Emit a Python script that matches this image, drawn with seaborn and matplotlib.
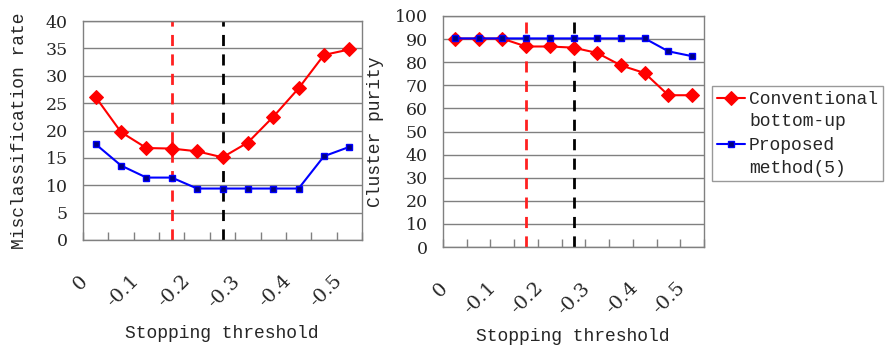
import numpy as np
import pandas as pd
import matplotlib
matplotlib.use("Agg")
import matplotlib.pyplot as plt
from matplotlib.transforms import ScaledTranslation
from matplotlib.legend_handler import HandlerLine2D
import seaborn as sns

# stopping threshold steps (one point per step, labels every 0.1)
steps = list(range(11))
tick_labels = ["0", "-0.1", "-0.2", "-0.3", "-0.4", "-0.5"]

# misclassification rate (%)
miscls_conv = [26.1, 19.7, 16.8, 16.7, 16.2, 15.1, 17.8, 22.5, 27.7, 33.8, 34.8]
miscls_prop = [17.5, 13.6, 11.4, 11.4, 9.4, 9.4, 9.4, 9.4, 9.4, 15.3, 17.0]

# cluster purity (%)
purity_conv = [90.2, 90.2, 90.2, 86.8, 86.8, 86.3, 84.0, 78.6, 75.3, 65.7, 65.7]
purity_prop = [90.3, 90.3, 90.3, 90.3, 90.3, 90.3, 90.3, 90.3, 90.3, 84.7, 82.6]

red_line = 3    # step index of red dashed marker
black_line = 5  # step index of black dashed marker

series_names = ["Conventional\nbottom-up", "Proposed\nmethod(5)"]

sns.set_theme(style="white")
mono = ["Liberation Mono", "DejaVu Sans Mono"]
serif = ["DejaVu Serif"]

fig = plt.figure(figsize=(8.86, 3.51), dpi=100)
W, H = 886, 351
ax1 = fig.add_axes([83 / W, 1 - 240 / H, 279 / W, 219 / H])
ax2 = fig.add_axes([443 / W, 1 - 247 / H, 261 / W, 231 / H])


def draw(ax, conv, prop, ymax, ystep, ylabel, ylab_x, xlab_y):
    df = pd.DataFrame({"step": steps * 2,
                       "value": conv + prop,
                       "series": [series_names[0]] * len(steps) + [series_names[1]] * len(steps)})
    ax.axvline(red_line, color="#ff2020", ls=(0, (4, 3)), lw=2, zorder=1)
    ax.axvline(black_line, color="black", ls=(0, (4, 3)), lw=2, zorder=1)
    sns.lineplot(data=df, x="step", y="value", hue="series", style="series",
                 palette=["#ff0000", "#0000ff"], markers=["D", "s"], dashes=False,
                 ax=ax, legend=False, lw=1.5, zorder=3)
    lines = ax.get_lines()[-2:]
    lines[0].set_markersize(7)
    lines[0].set_markeredgecolor("#ff0000")
    lines[0].set_markerfacecolor("#ff0000")
    lines[1].set_markersize(4.5)
    lines[1].set_markerfacecolor("#000080")
    lines[1].set_markeredgecolor("#0000ff")
    lines[1].set_markeredgewidth(1)

    ax.set_xlim(-0.5, 10.5)
    ax.set_ylim(0, ymax)
    ax.set_yticks(np.arange(0, ymax + 1, ystep))
    ax.yaxis.grid(True, color="#808080", lw=1)
    ax.set_axisbelow(True)
    for s in ax.spines.values():
        s.set_color("#808080")
        s.set_linewidth(1)
    ax.tick_params(axis="y", length=0, pad=11, labelsize=12.5)
    for t in ax.get_yticklabels():
        t.set_fontfamily(serif)

    bounds = np.arange(-0.5, 11, 1)
    ax.set_xticks(bounds)
    labs = []
    for i in range(len(bounds)):
        labs.append(tick_labels[i // 2] if i % 2 == 0 else "")
    ax.set_xticklabels(labs, rotation=45, ha="right", va="top",
                       rotation_mode="anchor", fontfamily=serif, fontsize=14)
    ax.tick_params(axis="x", direction="in", length=6, width=1, color="#808080",
                   pad=23, bottom=True)
    shift = ScaledTranslation(-4 / 100, 0, fig.dpi_scale_trans)
    for t in ax.get_xticklabels():
        t.set_transform(t.get_transform() + shift)
    ax.set_xlabel("Stopping threshold", fontfamily=mono, fontsize=13)
    ax.xaxis.set_label_coords(0.498, xlab_y)
    ax.set_ylabel(ylabel, fontfamily=mono, fontsize=13)
    ax.yaxis.set_label_coords(ylab_x, 0.5)
    return lines


class TopLineHandler(HandlerLine2D):
    # put the legend handle level with the first line of a two-line label
    def create_artists(self, legend, orig_handle, xdescent, ydescent,
                       width, height, fontsize, trans):
        arts = super().create_artists(legend, orig_handle, xdescent, ydescent,
                                      width, height, fontsize, trans)
        for a in arts:
            a.set_ydata(np.asarray(a.get_ydata()) + 0.7 * fontsize)
        return arts


lines = draw(ax1, miscls_conv, miscls_prop, 40, 5, "Misclassification rate", -0.197, -0.39)
draw(ax2, purity_conv, purity_prop, 100, 10, "Cluster purity", -0.226, -0.35)

leg = fig.legend(lines, series_names, loc="upper left",
                 bbox_to_anchor=(712 / W, 1 - 86 / H), frameon=True, fancybox=False,
                 prop={"family": mono, "size": 13}, handlelength=1.6,
                 handletextpad=0.2, labelspacing=0.35, borderpad=0.25,
                 borderaxespad=0,
                 handler_map={l: TopLineHandler() for l in lines})
for t in leg.get_texts():
    t.set_linespacing(1.45)
leg.get_frame().set_edgecolor("#808080")
leg.get_frame().set_linewidth(1)

fig.savefig("out.png", dpi=100)
